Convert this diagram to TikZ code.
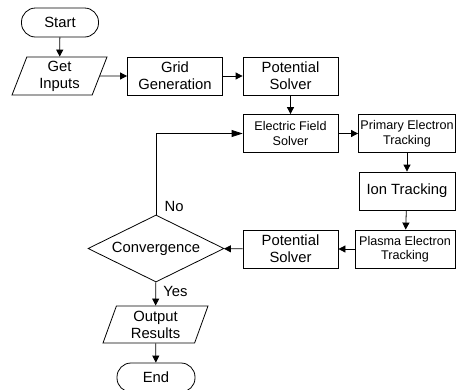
\documentclass[tikz,border=0pt]{standalone}
\usepackage{fontspec}
\setmainfont{Liberation Sans}
\usetikzlibrary{shapes.geometric,arrows.meta}

\tikzset{
    base/.style={draw, line width=0.8pt, align=center, inner sep=0pt,
        font=\fontsize{14.8}{17}\selectfont},
    procbox/.style={base, rectangle, minimum width=95pt, minimum height=38pt},
    smallbox/.style={procbox, font=\fontsize{12.6}{14.5}\selectfont},
    iobox/.style={base, trapezium, trapezium left angle=64, trapezium right angle=116,
        trapezium stretches body=true, minimum height=38pt},
    termbox/.style={base, rectangle, rounded corners=14pt, minimum width=77pt, minimum height=29pt},
    decision/.style={base, diamond, aspect=2, minimum width=136pt, minimum height=67pt},
    flow/.style={-{Triangle[length=7pt,width=7pt]}, line width=0.8pt},
    tag/.style={font=\fontsize{14.8}{17}\selectfont}
}

\begin{document}
\begin{tikzpicture}[x=1pt, y=-1pt]
    \useasboundingbox (0,0) rectangle (456,389);

    % Top row
    \node[termbox] (start) at (60,22.5) {Start};
    \node[iobox, minimum width=95pt] (inputs) at (59.5,76) {Get\\Inputs};
    \node[procbox] (grid) at (175,76) {Grid\\Generation};
    \node[procbox] (pot1) at (290.5,76) {Potential\\Solver};

    % Solver loop
    \node[smallbox] (efield) at (290.5,133.5) {Electric Field\\Solver};
    \node[smallbox, minimum width=97pt] (primary) at (407,133.5) {Primary Electron\\Tracking};
    \node[procbox, minimum width=96pt] (ion) at (407,191) {Ion Tracking};
    \node[smallbox, minimum width=100pt] (plasma) at (405,249) {Plasma Electron\\Tracking};
    \node[procbox] (pot2) at (290.5,249) {Potential\\Solver};
    \node[decision] (conv) at (156,248.5) {Convergence};

    % Bottom
    \node[iobox, minimum width=105pt, minimum height=37pt] (results) at (155.5,324.5) {Output\\Results};
    \node[termbox, minimum width=78pt] (stop) at (156,377.5) {End};

    % Connectors
    \draw[flow] (start) -- (inputs);
    \draw[flow] (inputs) -- (grid);
    \draw[flow] (grid) -- (pot1);
    \draw[flow] (pot1) -- (efield);
    \draw[flow] (efield) -- (primary);
    \draw[flow] (primary) -- (ion);
    \draw[flow] (ion) -- (plasma);
    \draw[flow] (plasma) -- (pot2);
    \draw[flow] (pot2) -- (conv);
    \draw[-{Triangle[length=11pt,width=7pt]}, line width=0.8pt] (conv.north) |- node[tag, pos=0.05, right=5pt] {No} (efield.west);
    \draw[flow] (conv) -- node[tag, pos=0.4, right=4pt] {Yes} (results);
    \draw[flow] (results) -- (stop);
\end{tikzpicture}
\end{document}
